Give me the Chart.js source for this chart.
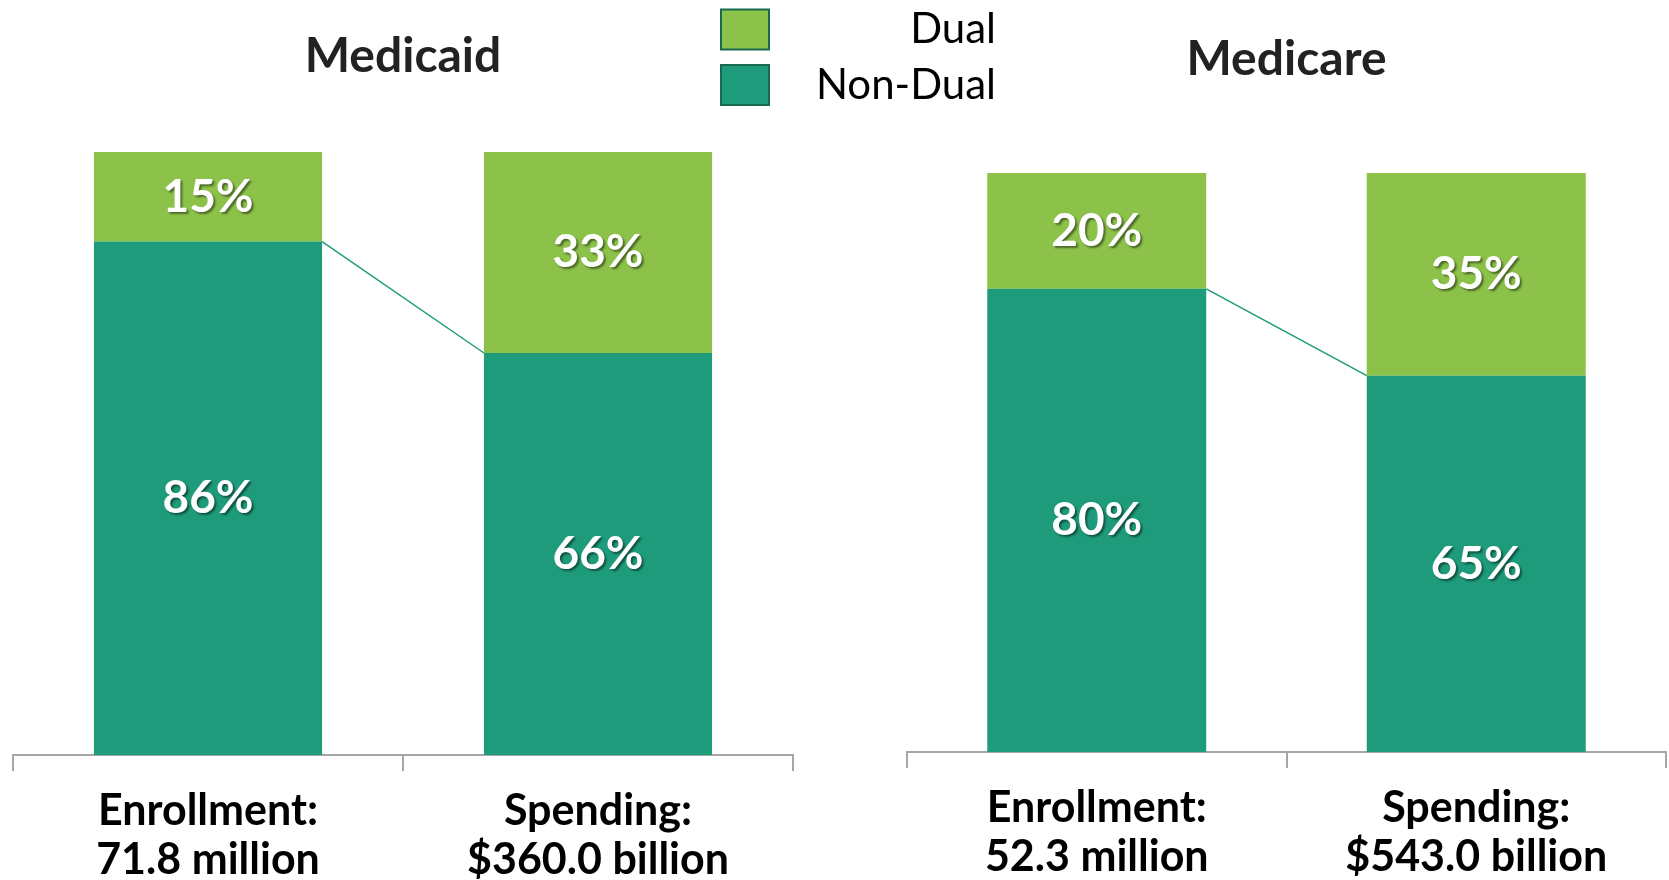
<!DOCTYPE html>
<html><head><meta charset="utf-8">
<script src="https://cdn.jsdelivr.net/npm/chart.js@4.4.0/dist/chart.umd.min.js"></script>
<style>
html,body{margin:0;padding:0;background:#fff;width:1669px;height:880px;overflow:hidden}
canvas{position:absolute;left:0;top:0}
</style></head><body>
<canvas id="c1" width="1669" height="880"></canvas>
<canvas id="c2" width="1669" height="880"></canvas>
<script>
// ---- data ----
const seriesNames = ["Non-Dual", "Dual"];
const panelTitles = ["Medicaid", "Medicare"];
const medicaidCategories = [["Enrollment:", "71.8 million"], ["Spending:", "$360.0 billion"]];
const medicaidNonDual = [86, 66];
const medicaidDual = [15, 33];
const medicareCategories = [["Enrollment:", "52.3 million"], ["Spending:", "$543.0 billion"]];
const medicareNonDual = [80, 65];
const medicareDual = [20, 35];

// ---- styles ----
const FONT = "Lato, 'Open Sans', sans-serif";
const NONDUAL_COLOR = "#1e9b7b";
const DUAL_COLOR = "#8cc249";
const LEGEND_BORDER = "#17694f";
const AXIS_COLOR = "#a6a6a6";
Chart.defaults.font.family = FONT;

// 100% stacked shares
function shares(a, b) { return a.map((v, i) => v / (v + b[i]) * 100); }

const barLabelPlugin = {
  id: 'barLabels',
  afterDatasetsDraw(chart) {
    const ctx = chart.ctx;
    ctx.save();
    ctx.font = "bold 46px " + FONT;
    ctx.fillStyle = "#ffffff";
    ctx.textAlign = "center";
    ctx.textBaseline = "middle";
    ctx.shadowColor = "rgba(0,0,0,0.45)";
    ctx.shadowOffsetX = 2;
    ctx.shadowOffsetY = 2;
    ctx.shadowBlur = 2;
    chart.data.datasets.forEach((ds, i) => {
      const meta = chart.getDatasetMeta(i);
      meta.data.forEach((bar, j) => {
        const p = bar.getProps(['x', 'y', 'base'], true);
        ctx.fillText(ds.rawValues[j] + "%", p.x, (p.y + p.base) / 2);
      });
    });
    ctx.restore();
  }
};

const seriesLinePlugin = {
  id: 'seriesLine',
  afterDatasetsDraw(chart) {
    const meta = chart.getDatasetMeta(0);
    const a = meta.data[0].getProps(['x', 'y', 'width'], true);
    const b = meta.data[1].getProps(['x', 'y', 'width'], true);
    const ctx = chart.ctx;
    ctx.save();
    ctx.strokeStyle = NONDUAL_COLOR;
    ctx.lineWidth = 1.5;
    ctx.beginPath();
    ctx.moveTo(a.x + a.width / 2, a.y);
    ctx.lineTo(b.x - b.width / 2, b.y);
    ctx.stroke();
    ctx.restore();
  }
};

const legendPlugin = {
  id: 'customLegend',
  afterDraw(chart) {
    const ctx = chart.ctx;
    const ds = chart.data.datasets;
    const items = [ds[1], ds[0]]; // Dual on top
    const boxX = 721, boxW = 48, boxH = 40, textRight = 996;
    const centers = [29.5, 85];
    ctx.save();
    items.forEach((d, k) => {
      const cy = centers[k];
      ctx.fillStyle = d.backgroundColor;
      ctx.fillRect(boxX, cy - boxH / 2, boxW, boxH);
      ctx.strokeStyle = LEGEND_BORDER;
      ctx.lineWidth = 2;
      ctx.strokeRect(boxX, cy - boxH / 2, boxW, boxH);
      ctx.fillStyle = "#000";
      ctx.font = "42px " + FONT;
      ctx.textAlign = "right";
      ctx.textBaseline = "middle";
      ctx.fillText(d.label, textRight, cy);
    });
    ctx.restore();
  }
};

function makePanel(id, title, cats, nonDual, dual, geo, plugins) {
  return new Chart(document.getElementById(id), {
    type: 'bar',
    data: {
      labels: cats,
      datasets: [
        { label: seriesNames[0], data: shares(nonDual, dual), rawValues: nonDual,
          backgroundColor: NONDUAL_COLOR, borderWidth: 0,
          barPercentage: geo.barPct, categoryPercentage: 1 },
        { label: seriesNames[1], data: shares(dual, nonDual), rawValues: dual,
          backgroundColor: DUAL_COLOR, borderWidth: 0,
          barPercentage: geo.barPct, categoryPercentage: 1 }
      ]
    },
    options: {
      responsive: false,
      animation: false,
      events: [],
      layout: { padding: { top: 0, bottom: 0, left: geo.left, right: geo.right } },
      plugins: {
        legend: { display: false },
        tooltip: { enabled: false },
        title: {
          display: true, text: title, color: '#222222',
          font: { family: FONT, size: 48, weight: 'bold', lineHeight: 1.2 },
          padding: { top: geo.titleTop, bottom: geo.titleBottom }
        }
      },
      scales: {
        x: {
          stacked: true,
          offset: true,
          afterFit(s) { s.height = geo.axisH; },
          grid: { display: true, offset: true, drawOnChartArea: false, drawTicks: true,
                  tickLength: 16, color: AXIS_COLOR, lineWidth: 2 },
          border: { display: true, color: AXIS_COLOR, width: 2 },
          ticks: { color: '#000', padding: 15, maxRotation: 0, autoSkip: false,
                   font: { family: FONT, size: 43, weight: 'bold', lineHeight: 1.15 } }
        },
        y: { stacked: true, display: false, min: 0, max: 100 }
      }
    },
    plugins: plugins
  });
}

makePanel('c1', panelTitles[0], medicaidCategories, medicaidNonDual, medicaidDual,
  { left: 13, right: 876, barPct: 0.585, titleTop: 28, titleBottom: 66.4, axisH: 125 },
  [barLabelPlugin, seriesLinePlugin, legendPlugin]);

makePanel('c2', panelTitles[1], medicareCategories, medicareNonDual, medicareDual,
  { left: 907, right: 3, barPct: 0.577, titleTop: 31, titleBottom: 84.4, axisH: 128 },
  [barLabelPlugin, seriesLinePlugin]);
</script>
</body></html>
